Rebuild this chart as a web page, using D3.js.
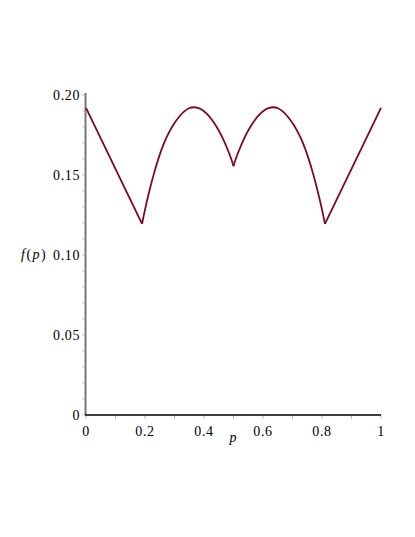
<!DOCTYPE html>
<html>
<head>
<meta charset="utf-8">
<script src="https://cdn.jsdelivr.net/npm/d3@7"></script>
<style>
  body { margin: 0; background: #fff; }
</style>
</head>
<body>
<script>
// values
var pVals = [0, 0.19, 0.2, 0.2136, 0.2305, 0.2475, 0.2644, 0.2814, 0.2983, 0.3153, 0.3322, 0.3492,
             0.3662, 0.379, 0.3922, 0.4092, 0.4261, 0.4431, 0.46, 0.4769, 0.4939, 0.5,
             0.5061, 0.5231, 0.54, 0.5569, 0.5739, 0.5908, 0.6078, 0.621, 0.6338,
             0.6508, 0.6678, 0.6847, 0.7017, 0.7186, 0.7356, 0.7525, 0.7695, 0.7864, 0.8, 0.81, 1];
var fVals = [0.192, 0.1195, 0.1285, 0.1393, 0.1513, 0.1616, 0.1703, 0.1768, 0.1822, 0.1864, 0.1898, 0.192,
             0.1925, 0.192, 0.1911, 0.1886, 0.1848, 0.1802, 0.1745, 0.1675, 0.1595, 0.1555,
             0.1595, 0.1675, 0.1745, 0.1802, 0.1848, 0.1886, 0.1911, 0.192, 0.1925,
             0.192, 0.1898, 0.1864, 0.1822, 0.1768, 0.1703, 0.1616, 0.1513, 0.1393, 0.1285, 0.1195, 0.192];
var cornerP = [0.19, 0.5, 0.81];
var xTicks = [0, 0.2, 0.4, 0.6, 0.8, 1];
var xTickLabels = ['0', '0.2', '0.4', '0.6', '0.8', '1'];
var yTicks = [0, 0.05, 0.10, 0.15, 0.20];
var yTickLabels = ['0', '0.05', '0.10', '0.15', '0.20'];

var width = 415, height = 537;
var svg = d3.select('body').append('svg').attr('width', width).attr('height', height)
  .attr('font-family', '"Liberation Serif", serif');

var x = d3.scaleLinear().domain([0, 1]).range([86, 381]);
var y = d3.scaleLinear().domain([0, 0.2]).range([415, 95]);

// minor ticks
svg.append('g').selectAll('line')
  .data(d3.range(0, 1.0001, 0.1))
  .enter().append('line')
  .attr('x1', function (d) { return x(d); }).attr('x2', function (d) { return x(d); })
  .attr('y1', 415).attr('y2', 419)
  .attr('stroke', '#bbb').attr('stroke-width', 1);
svg.append('g').selectAll('line')
  .data(d3.range(0, 0.2001, 0.01))
  .enter().append('line')
  .attr('x1', 82).attr('x2', 86)
  .attr('y1', function (d) { return y(d); }).attr('y2', function (d) { return y(d); })
  .attr('stroke', '#ccc').attr('stroke-width', 1);

// axes lines
svg.append('line').attr('x1', 85.5).attr('x2', 85.5).attr('y1', 415).attr('y2', 93)
  .attr('stroke', '#777').attr('stroke-width', 2);
svg.append('line').attr('x1', 85).attr('x2', 381).attr('y1', 415).attr('y2', 415)
  .attr('stroke', '#000').attr('stroke-width', 1.6);

// tick labels
svg.append('g').selectAll('text')
  .data(xTicks)
  .enter().append('text')
  .attr('x', function (d) { return x(d); })
  .attr('y', 435.5)
  .attr('text-anchor', 'middle')
  .attr('font-size', 14)
  .attr('letter-spacing', 0.6)
  .text(function (d, i) { return xTickLabels[i]; });
svg.append('g').selectAll('text')
  .data(yTicks)
  .enter().append('text')
  .attr('x', 80)
  .attr('y', function (d) { return y(d) + 4.7; })
  .attr('text-anchor', 'end')
  .attr('font-size', 14)
  .attr('letter-spacing', 0.6)
  .text(function (d, i) { return yTickLabels[i]; });

// axis titles
svg.append('text').attr('x', 233).attr('y', 442).attr('text-anchor', 'middle')
  .attr('font-size', 14).attr('font-style', 'italic').text('p');
var fl = svg.append('text').attr('x', 21).attr('y', 259).attr('font-size', 14)
  .attr('letter-spacing', 1.5);
fl.append('tspan').attr('font-style', 'italic').text('f');
fl.append('tspan').text('(');
fl.append('tspan').attr('font-style', 'italic').text('p');
fl.append('tspan').text(')');

// curve, split at the corners; basis smooths the read-off points
var pts = pVals.map(function (p, i) { return [p, fVals[i]]; });
var breaks = [0].concat(cornerP, [1]);
var line = d3.line()
  .x(function (d) { return x(d[0]); })
  .y(function (d) { return y(d[1]); })
  .curve(d3.curveBasis);
for (var k = 0; k < breaks.length - 1; k++) {
  var seg = pts.filter(function (d) { return d[0] >= breaks[k] && d[0] <= breaks[k + 1]; });
  svg.append('path').datum(seg)
    .attr('d', line)
    .attr('fill', 'none')
    .attr('stroke', '#7b0a1c')
    .attr('stroke-width', 1.8);
}
</script>
</body>
</html>
